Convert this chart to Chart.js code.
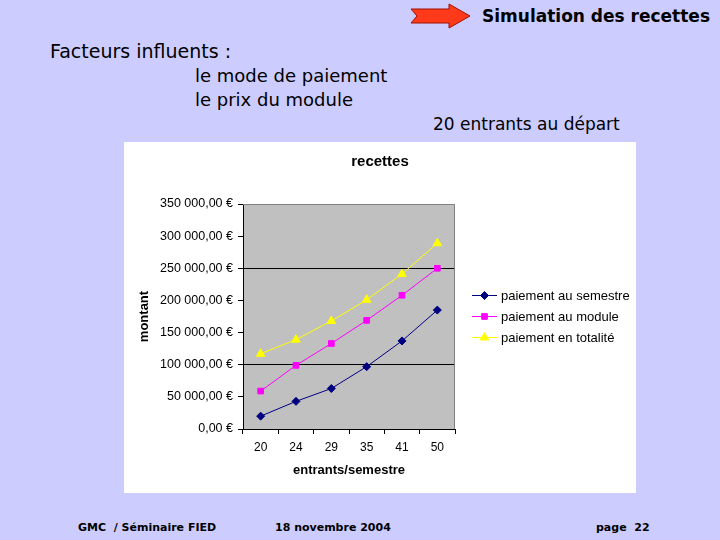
<!DOCTYPE html>
<html lang="fr">
<head>
<meta charset="UTF-8">
<title>Simulation des recettes</title>
<script src="https://cdn.jsdelivr.net/npm/chart.js"></script>
<style>
  body { margin: 0; background: #ccccff; }
  #slide { position: relative; width: 720px; height: 540px; background: #ccccff; overflow: hidden; font-family: "DejaVu Sans", sans-serif; color: #000; }
  .t { position: absolute; white-space: nowrap; line-height: 1; }
  #box { position: absolute; left: 124px; top: 142px; width: 512px; height: 351px; background: #fff; }
</style>
</head>
<body>
<div id="slide">
  <svg style="position:absolute;left:409px;top:3px" width="64" height="28">
    <polygon points="2,6 40,6 40,1 61,13 40,25 40,20 2,20 8,13" fill="#ff3a1a" stroke="#a01000" stroke-width="1"/>
  </svg>
  <div class="t" style="right:10px;top:8px;font-size:17px;font-weight:bold;">Simulation des recettes</div>
  <div class="t" style="left:50px;top:42px;font-size:19px;">Facteurs influents :</div>
  <div class="t" style="left:195px;top:67px;font-size:18px;">le mode de paiement</div>
  <div class="t" style="left:195px;top:91px;font-size:18px;">le prix du module</div>
  <div class="t" style="left:433px;top:116px;font-size:17px;">20 entrants au départ</div>
  <div class="t" style="left:78px;top:522px;font-size:11px;font-weight:bold;">GMC&nbsp; / Séminaire FIED</div>
  <div class="t" style="left:275px;top:522px;font-size:11px;font-weight:bold;">18 novembre 2004</div>
  <div class="t" style="left:596px;top:522px;font-size:11px;font-weight:bold;">page&nbsp; 22</div>
  <div id="box"><canvas id="myChart" width="512" height="351"></canvas></div>
</div>

<script>
  const entrants = ['20', '24', '29', '35', '41', '50'];
  const paiementSemestre = [20000, 43000, 63000, 97000, 137000, 185000];
  const paiementModule = [59000, 99000, 133000, 169000, 208000, 250000];
  const paiementTotalite = [117000, 139000, 168000, 201000, 241000, 289000];
  const yTicks = [0, 50000, 100000, 150000, 200000, 250000, 300000, 350000];
  const gridValues = [100000, 250000];

  const FONT = '"Liberation Sans", Arial, sans-serif';

  function euro(v) {
    const s = String(Math.round(v)).replace(/\B(?=(\d{3})+(?!\d))/g, ' ');
    return s + ',00 €';
  }

  // fond gris + cadre de la zone de tracé
  const plotArea = {
    id: 'plotArea',
    beforeDraw(chart) {
      const { ctx, chartArea: a } = chart;
      ctx.save();
      ctx.fillStyle = '#c0c0c0';
      ctx.fillRect(a.left, a.top, a.right - a.left, a.bottom - a.top);
      ctx.restore();
    },
    afterDraw(chart) {
      const { ctx, chartArea: a } = chart;
      ctx.save();
      ctx.strokeStyle = '#808080';
      ctx.lineWidth = 1;
      ctx.beginPath();
      ctx.moveTo(a.left, a.top + 0.5);
      ctx.lineTo(a.right - 0.5, a.top + 0.5);
      ctx.lineTo(a.right - 0.5, a.bottom);
      ctx.stroke();
      ctx.restore();
    }
  };

  // légende façon Excel : trait + marqueur
  const excelLegend = {
    id: 'excelLegend',
    afterDraw(chart) {
      const { ctx, chartArea: a } = chart;
      const x0 = a.right + 17;
      const yc = (a.top + a.bottom) / 2;
      ctx.save();
      ctx.font = '13px ' + FONT;
      ctx.textBaseline = 'middle';
      chart.data.datasets.forEach((ds, i) => {
        const y = yc + (i - 1) * 21;
        ctx.strokeStyle = ds.borderColor;
        ctx.fillStyle = ds.backgroundColor;
        ctx.lineWidth = 1;
        ctx.beginPath();
        ctx.moveTo(x0, y);
        ctx.lineTo(x0 + 25, y);
        ctx.stroke();
        Chart.helpers.drawPoint(ctx, {
          pointStyle: ds.pointStyle, radius: ds.pointRadius, borderWidth: 1
        }, x0 + 12.5, y);
        ctx.fillStyle = '#000';
        ctx.fillText(ds.label, x0 + 29, y + 1);
      });
      ctx.restore();
    }
  };

  const data = {
    labels: entrants,
    datasets: [
      { label: 'paiement au semestre', data: paiementSemestre, borderColor: '#000080', backgroundColor: '#000080', pointStyle: 'rectRot', pointRadius: 4 },
      { label: 'paiement au module', data: paiementModule, borderColor: '#ff00ff', backgroundColor: '#ff00ff', pointStyle: 'rect', pointRadius: 4 },
      { label: 'paiement en totalité', data: paiementTotalite, borderColor: '#ffff00', backgroundColor: '#ffff00', pointStyle: 'triangle', pointRadius: 5 }
    ]
  };
  data.datasets.forEach(ds => {
    ds.borderWidth = 1;
    ds.pointBorderWidth = 1;
    ds.pointBorderColor = ds.borderColor;
    ds.tension = 0;
    ds.yAxisID = 'y';
  });

  const config = {
    type: 'line',
    data: data,
    options: {
      responsive: false,
      animation: false,
      layout: { padding: { left: 0, right: 0, top: 0, bottom: 15 } },
      plugins: {
        legend: { display: false },
        tooltip: { enabled: false },
        title: {
          display: true,
          text: 'recettes',
          color: '#000',
          font: { family: FONT, size: 15, weight: 'bold' },
          padding: { top: 11, bottom: 33 }
        }
      },
      scales: {
        x: {
          offset: true,
          grid: { offset: true, drawOnChartArea: false, color: '#000', tickColor: '#000', tickLength: 5 },
          border: { color: '#000' },
          ticks: { color: '#000', padding: 6, font: { family: FONT, size: 12 } },
          title: {
            display: true,
            text: 'entrants/semestre',
            color: '#000',
            font: { family: FONT, size: 13, weight: 'bold' },
            padding: { top: 2, bottom: 0 }
          }
        },
        y: {
          min: 0,
          max: 350000,
          afterBuildTicks(scale) { scale.ticks = yTicks.map(v => ({ value: v })); },
          afterFit(scale) { scale.width = 119; },
          grid: {
            color: ctx => gridValues.includes(ctx.tick && ctx.tick.value) ? '#000' : 'rgba(0,0,0,0)',
            tickColor: '#000',
            tickLength: 5
          },
          border: { color: '#000' },
          ticks: {
            color: '#000',
            padding: 5,
            font: { family: FONT, size: 12.5 },
            callback: v => euro(v)
          },
          title: {
            display: true,
            text: 'montant',
            color: '#000',
            font: { family: FONT, size: 13, weight: 'bold' },
            padding: { top: 13, bottom: 0 }
          }
        },
        // axe vide à droite : réserve la place de la légende
        legendSpace: {
          position: 'right',
          afterFit(scale) { scale.width = 181; },
          grid: { display: false },
          border: { display: false },
          ticks: { display: false }
        }
      }
    },
    plugins: [plotArea, excelLegend]
  };

  new Chart(document.getElementById('myChart').getContext('2d'), config);
</script>
</body>
</html>
